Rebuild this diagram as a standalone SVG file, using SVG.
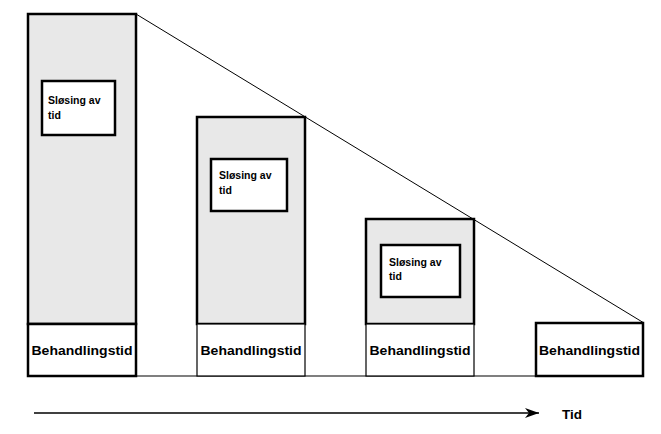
<svg xmlns="http://www.w3.org/2000/svg" width="661" height="434" viewBox="0 0 661 434">
<style>
.bg{fill:#fff}
.gray{fill:#e8e8e8;stroke:#000;stroke-width:2.5}
.inner{fill:#fff;stroke:#000;stroke-width:2.5}
.thick{fill:#fff;stroke:#000;stroke-width:2.5}
.thin{fill:#fff;stroke:#000;stroke-width:1.2}
.lbl{font-family:"Liberation Sans",Arial,sans-serif;font-weight:bold;font-size:13.5px;fill:#000}
.small{font-family:"Liberation Sans",Arial,sans-serif;font-weight:bold;font-size:10.5px;fill:#000}
.ln{stroke:#000;fill:none}
</style>
<defs>
<marker id="ah" viewBox="0 0 14 10" refX="14" refY="5" markerWidth="14" markerHeight="10" markerUnits="userSpaceOnUse" orient="auto">
<path d="M0,0 L14,5 L0,10 L4,5 Z" fill="#000"/>
</marker>
</defs>
<rect class="bg" x="0" y="0" width="661" height="434"/>
<g id="connectors">
<line class="ln" x1="136" y1="14" x2="644" y2="323" stroke-width="1" stroke="#333"/>
<line class="ln" x1="28" y1="376" x2="644" y2="376" stroke-width="1.2"/>
<line class="ln" x1="34" y1="413" x2="539" y2="413" stroke-width="1.3" marker-end="url(#ah)"/>
</g>
<g id="node1">
<rect class="gray" x="28" y="14" width="108" height="310"/>
<rect class="thick" x="28" y="324" width="108" height="52"/>
<rect class="inner" x="42" y="81" width="73" height="54"/>
<text class="small" x="48" y="104">Sløsing av</text>
<text class="small" x="48" y="119">tid</text>
<text class="lbl" x="82" y="355" text-anchor="middle" textLength="101" lengthAdjust="spacingAndGlyphs">Behandlingstid</text>
</g>
<g id="node2">
<rect class="gray" x="197" y="117" width="108" height="207"/>
<rect class="thin" x="197" y="324" width="108" height="52"/>
<rect class="inner" x="211" y="159" width="76" height="52"/>
<text class="small" x="219" y="179">Sløsing av</text>
<text class="small" x="219" y="194">tid</text>
<text class="lbl" x="251" y="355" text-anchor="middle" textLength="101" lengthAdjust="spacingAndGlyphs">Behandlingstid</text>
</g>
<g id="node3">
<rect class="gray" x="366" y="219" width="108" height="105"/>
<rect class="thin" x="366" y="324" width="108" height="52"/>
<rect class="inner" x="381" y="245" width="79" height="52"/>
<text class="small" x="389" y="266">Sløsing av</text>
<text class="small" x="389" y="280">tid</text>
<text class="lbl" x="420" y="355" text-anchor="middle" textLength="101" lengthAdjust="spacingAndGlyphs">Behandlingstid</text>
</g>
<g id="node4">
<rect class="thick" x="536" y="323" width="107" height="53"/>
<text class="lbl" x="589.5" y="355" text-anchor="middle" textLength="101" lengthAdjust="spacingAndGlyphs">Behandlingstid</text>
</g>
<g id="label-tid">
<text class="lbl" x="562" y="419">Tid</text>
</g>
</svg>
